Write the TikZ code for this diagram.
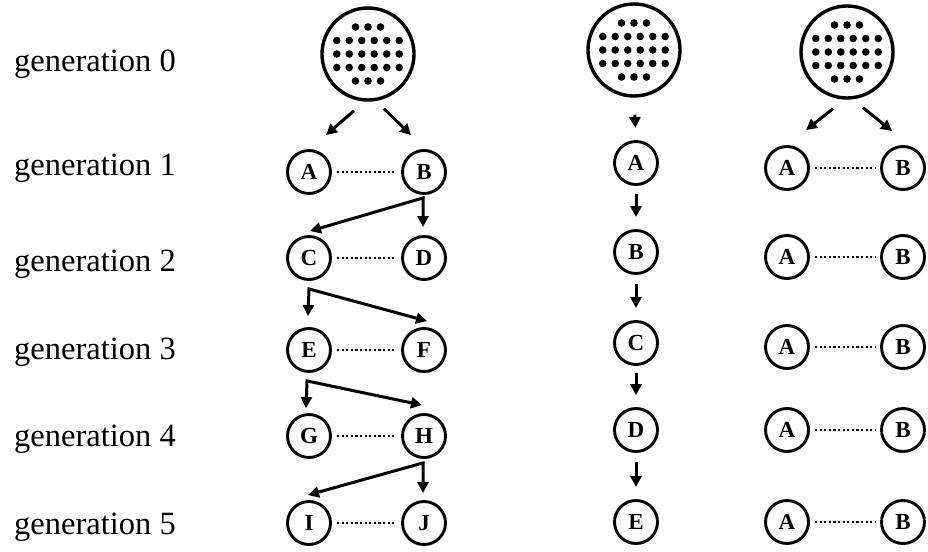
\documentclass[tikz,border=0pt]{standalone}
\usepackage{fontspec}
\setmainfont{Liberation Serif}
\usetikzlibrary{arrows.meta}
\begin{document}
\begin{tikzpicture}[x=1pt,y=-1pt,
  pool/.style={circle,draw,line width=3.4pt,minimum size=92pt,inner sep=0pt},
  ind/.style={circle,draw,line width=2.9pt,minimum size=43pt,inner sep=0pt,
              font=\fontsize{23}{23}\selectfont\bfseries},
  gen/.style={anchor=west,inner sep=0pt,font=\fontsize{32.5}{32.5}\selectfont},
  tip/.tip={Triangle[length=11pt,width=11pt]},
  arr/.style={line width=3pt,-tip},
  arr2/.style={line width=3pt,tip-tip},
  link/.style={line width=2.8pt,dash pattern=on 2.2pt off 2.4pt,shorten <=5pt,shorten >=5pt},
  pics/dotpool/.style={code={
    \foreach \x in {-12.5,0,12.5} {
      \fill (\x,-27) circle[radius=3.8pt];
      \fill (\x,27) circle[radius=3.8pt];
    }
    \foreach \y in {-13.5,0,13.5}
      \foreach \x in {-31.25,-18.75,-6.25,6.25,18.75,31.25}
        \fill (\x,\y) circle[radius=3.8pt];
  }}]
\useasboundingbox (0,0) rectangle (928,551);

% generation labels
\node[gen] (g0) at (14,64)  {generation 0};
\node[gen] (g1) at (14,168) {generation 1};
\node[gen] (g2) at (14,264) {generation 2};
\node[gen] (g3) at (14,352) {generation 3};
\node[gen] (g4) at (14,439) {generation 4};
\node[gen] (g5) at (14,527) {generation 5};

% ---- left lineage: two founders per generation
\node[pool] (P1) at (368,54) {};
\pic at (368,54) {dotpool};
\node[ind] (A1) at (309,172) {A};
\node[ind] (B1) at (424,172) {B};
\node[ind] (C2) at (309,258) {C};
\node[ind] (D2) at (424,258) {D};
\node[ind] (E3) at (309,350) {E};
\node[ind] (F3) at (424,350) {F};
\node[ind] (G4) at (309,436) {G};
\node[ind] (H4) at (424,436) {H};
\node[ind] (I5) at (309,523) {I};
\node[ind] (J5) at (424,523) {J};

\draw[arr] ([shift={(-14,9)}]P1.south) -- ([shift={(17,-14)}]A1.north);
\draw[arr] ([shift={(16,7)}]P1.south) -- ([shift={(-13,-14)}]B1.north);

\draw[arr2] ([shift={(1,-4)}]C2.north) -- ([shift={(-1,3)}]B1.south) -- ([shift={(-1,-8)}]D2.north);
\draw[arr2] ([shift={(-1,-11)}]E3.north) -- ([shift={(0,8)}]C2.south) -- ([shift={(3,-6)}]F3.north);
\draw[arr2] ([shift={(-3,-5)}]G4.north) -- ([shift={(-2,8)}]E3.south) -- ([shift={(-2,-8)}]H4.north);
\draw[arr2] ([shift={(-1,-5)}]I5.north) -- ([shift={(-1,4)}]H4.south) -- ([shift={(-1,-7)}]J5.north);

\draw[link] (A1) -- (B1);
\draw[link] (C2) -- (D2);
\draw[link] (E3) -- (F3);
\draw[link] (G4) -- (H4);
\draw[link] (I5) -- (J5);

% ---- middle lineage: single chain
\node[pool] (P2) at (634,50) {};
\pic at (634,50) {dotpool};
\node[ind] (M1) at (636,163) {A};
\node[ind] (M2) at (636,252) {B};
\node[ind] (M3) at (636,343) {C};
\node[ind] (M4) at (636,430) {D};
\node[ind] (M5) at (636,522) {E};

\draw[arr,shorten <=17pt,shorten >=12pt] (P2.south) -- (M1.north);
\draw[arr,shorten <=8pt,shorten >=12pt] (M1.south) -- (M2.north);
\draw[arr,shorten <=9pt,shorten >=12pt] (M2.south) -- (M3.north);
\draw[arr,shorten <=7pt,shorten >=12pt] (M3.south) -- (M4.north);
\draw[arr,shorten <=9pt,shorten >=12pt] (M4.south) -- (M5.north);

% ---- right lineage: the same pair every generation
\node[pool] (P3) at (847,52) {};
\pic at (847,52) {dotpool};
\node[ind] (RA1) at (787,168) {A};
\node[ind] (RB1) at (903,168) {B};
\node[ind] (RA2) at (787,257) {A};
\node[ind] (RB2) at (903,257) {B};
\node[ind] (RA3) at (787,347) {A};
\node[ind] (RB3) at (903,347) {B};
\node[ind] (RA4) at (787,430) {A};
\node[ind] (RB4) at (903,430) {B};
\node[ind] (RA5) at (787,522) {A};
\node[ind] (RB5) at (903,522) {B};

\draw[arr] ([shift={(-14,9)}]P3.south) -- ([shift={(19,-15)}]RA1.north);
\draw[arr] ([shift={(16,8)}]P3.south) -- ([shift={(-11,-14)}]RB1.north);

\draw[link] (RA1) -- (RB1);
\draw[link] (RA2) -- (RB2);
\draw[link] (RA3) -- (RB3);
\draw[link] (RA4) -- (RB4);
\draw[link] (RA5) -- (RB5);
\end{tikzpicture}
\end{document}
